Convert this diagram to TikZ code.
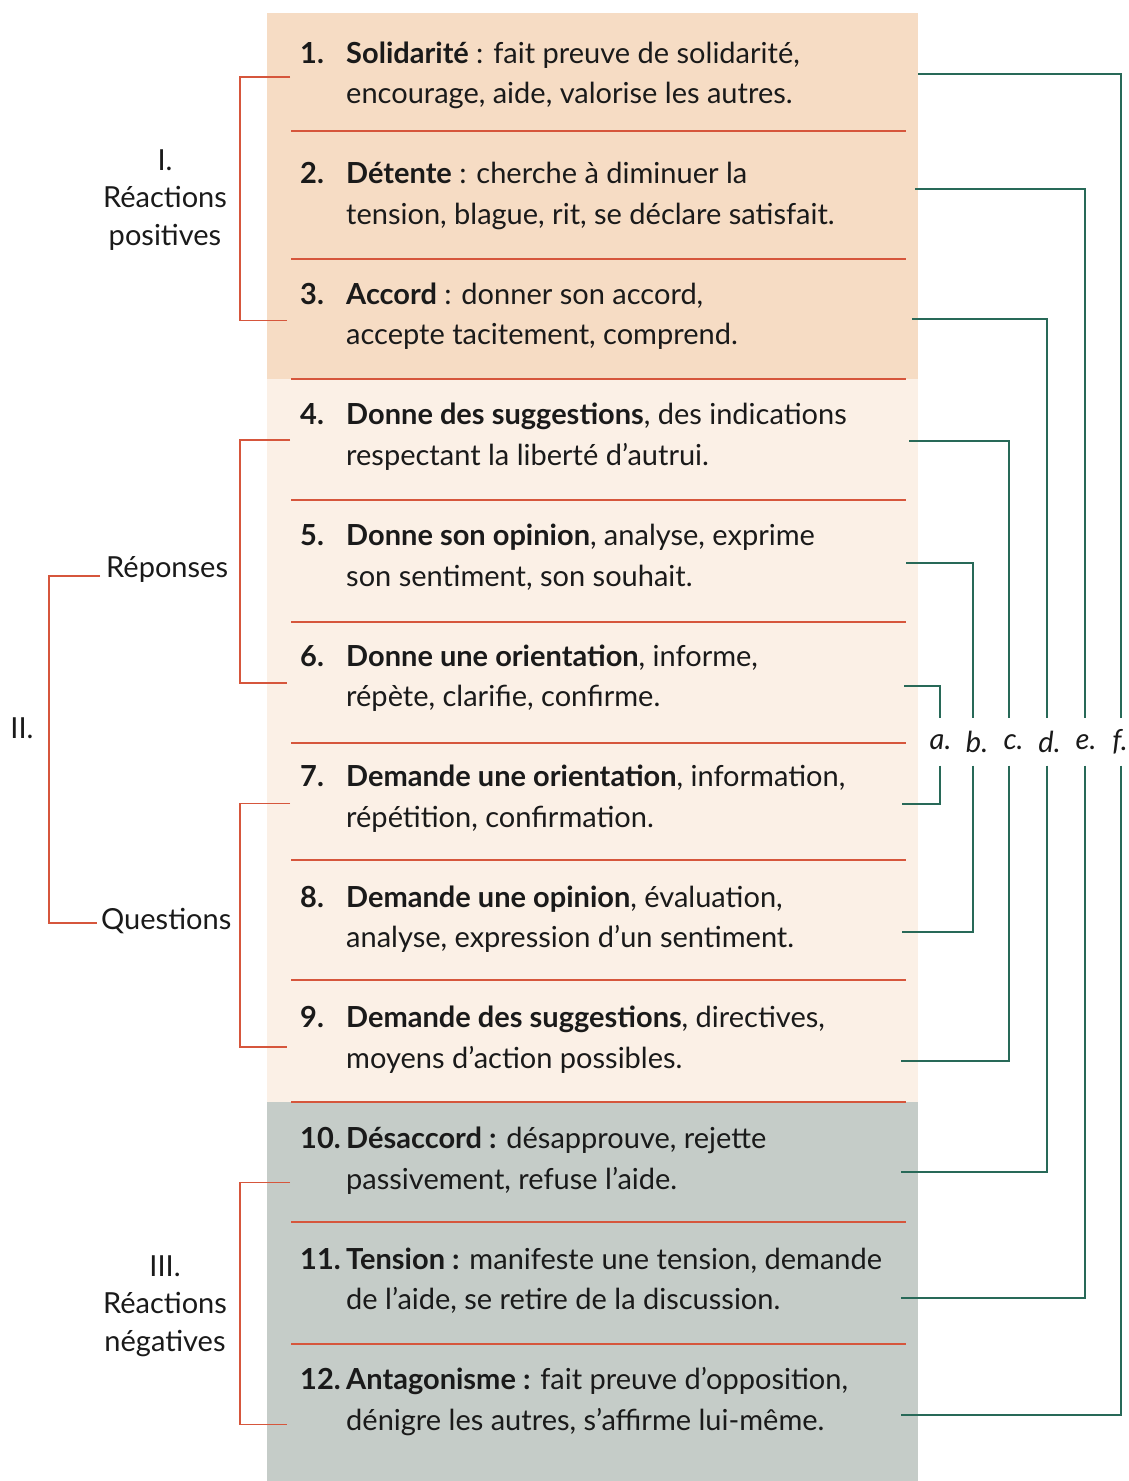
\documentclass[tikz,border=0pt]{standalone}
\usepackage{fontspec}
\setmainfont{Lato}
\usepackage{array}

\definecolor{bandpeach}{RGB}{246,220,196}
\definecolor{bandcream}{RGB}{251,240,230}
\definecolor{bandslate}{RGB}{197,204,200}
\definecolor{rulered}{RGB}{214,86,60}
\definecolor{linkgreen}{RGB}{40,105,88}
\definecolor{inkblack}{RGB}{26,26,26}

\newcommand{\bodyfont}{\fontsize{29}{40.6}\selectfont}
\newcommand{\groupfont}{\fontsize{29}{37.5}\selectfont}
% number, first line, second line
\newcommand{\entrylines}[3]{\begin{tabular}[t]{@{}p{46pt}@{}l@{}}\textbf{#1} & #2\\ & #3\end{tabular}}

\begin{document}
\begin{tikzpicture}[x=1pt, y=-1pt,
  entry/.style={anchor=base west, inner sep=0pt, text=inkblack, font=\bodyfont},
  group/.style={inner sep=0pt, align=center, text=inkblack, font=\groupfont},
  letter/.style={inner sep=0pt, minimum height=47pt, text=inkblack, font=\bodyfont\itshape},
  rule/.style={draw=rulered, line width=1.6pt},
  brace/.style={draw=rulered, line width=1.4pt},
  link/.style={draw=linkgreen, line width=1.8pt}]

  \useasboundingbox (0,0) rectangle (1128,1481);

  % colour bands
  \fill[bandpeach] (267,13) rectangle (918,379);
  \fill[bandcream] (267,379) rectangle (918,1102);
  \fill[bandslate] (267,1102) rectangle (918,1481);

  % separators between the rows
  \draw[rule] (291,131) -- (906,131);
  \draw[rule] (291,259) -- (906,259);
  \draw[rule] (291,379) -- (906,379);
  \draw[rule] (291,500) -- (906,500);
  \draw[rule] (291,622) -- (906,622);
  \draw[rule] (291,743) -- (906,743);
  \draw[rule] (291,860) -- (906,860);
  \draw[rule] (291,980) -- (906,980);
  \draw[rule] (291,1102) -- (906,1102);
  \draw[rule] (291,1222) -- (906,1222);
  \draw[rule] (291,1344) -- (906,1344);

  % the twelve categories
  \node[entry] (item1) at (300,63) {\entrylines{1.}{\textbf{Solidarité} : fait preuve de solidarité,}{encourage, aide, valorise les autres.}};
  \node[entry] (item2) at (300,183.6) {\entrylines{2.}{\textbf{Détente} : cherche à diminuer la}{tension, blague, rit, se déclare satisfait.}};
  \node[entry] (item3) at (300,304.2) {\entrylines{3.}{\textbf{Accord} : donner son accord,}{accepte tacitement, comprend.}};
  \node[entry] (item4) at (300,424.8) {\entrylines{4.}{\textbf{Donne des suggestions}, des indications}{respectant la liberté d’autrui.}};
  \node[entry] (item5) at (300,545.4) {\entrylines{5.}{\textbf{Donne son opinion}, analyse, exprime}{son sentiment, son souhait.}};
  \node[entry] (item6) at (300,666) {\entrylines{6.}{\textbf{Donne une orientation}, informe,}{répète, clarifie, confirme.}};
  \node[entry] (item7) at (300,786.6) {\entrylines{7.}{\textbf{Demande une orientation}, information,}{répétition, confirmation.}};
  \node[entry] (item8) at (300,907.2) {\entrylines{8.}{\textbf{Demande une opinion}, évaluation,}{analyse, expression d’un sentiment.}};
  \node[entry] (item9) at (300,1027.8) {\entrylines{9.}{\textbf{Demande des suggestions}, directives,}{moyens d’action possibles.}};
  \node[entry] (item10) at (300,1148.4) {\entrylines{10.}{\textbf{Désaccord :} désapprouve, rejette}{passivement, refuse l’aide.}};
  \node[entry] (item11) at (300,1269) {\entrylines{11.}{\textbf{Tension :} manifeste une tension, demande}{de l’aide, se retire de la discussion.}};
  \node[entry] (item12) at (300,1389.6) {\entrylines{12.}{\textbf{Antagonisme :} fait preuve d’opposition,}{dénigre les autres, s’affirme lui-même.}};

  % groups on the left
  \node[group, anchor=base] (positive) at (165,245) {I.\\Réactions\\positives};
  \node[group, anchor=west] (answers) at (106,569) {Réponses};
  \node[group, anchor=west] (questions) at (101,921) {Questions};
  \node[group] (second) at (22,728) {II.};
  \node[group, anchor=base] (negative) at (165,1351) {III.\\Réactions\\négatives};

  \draw[brace] ([shift={(-10,2)}]item1.west) -- ++(-50,0) |- ([shift={(-13,4)}]item3.west);
  \draw[brace] ([shift={(-10,3)}]item4.west) -- ++(-50,0) |- ([shift={(-13,5)}]item6.west);
  \draw[brace] ([shift={(-10,5)}]item7.west) -- ++(-50,0) |- ([shift={(-13,7)}]item9.west);
  \draw[brace] ([shift={(-10,22)}]item10.west) -- ++(-50,0) |- ([shift={(-13,23)}]item12.west);
  \draw[brace] ([shift={(-6,7)}]answers.west) -- ++(-51,0) |- ([shift={(-4,2)}]questions.west);

  % pairs on the right
  \node[letter] (pa) at (940.5,742) {a.};
  \node[letter] (pb) at (977,742) {b.};
  \node[letter] (pc) at (1013.5,742) {c.};
  \node[letter] (pd) at (1049.5,742) {d.};
  \node[letter] (pe) at (1086,742) {e.};
  \node[letter] (pf) at (1120,742) {f.};

  \coordinate (r1) at (918,74);
  \coordinate (r2) at (915,189);
  \coordinate (r3) at (912,319);
  \coordinate (r4) at (909,441);
  \coordinate (r5) at (906,563);
  \coordinate (r6) at (904,686);
  \coordinate (r7) at (902,804);
  \coordinate (r8) at (902,932);
  \coordinate (r9) at (901,1061);
  \coordinate (r10) at (901,1172);
  \coordinate (r11) at (901,1298);
  \coordinate (r12) at (901,1415);

  \draw[link] (r6) -| ([xshift=-0.5pt]pa.north) ([xshift=-0.5pt]pa.south) |- (r7);
  \draw[link] (r5) -| ([xshift=-4pt]pb.north) ([xshift=-4pt]pb.south) |- (r8);
  \draw[link] (r4) -| ([xshift=-4.5pt]pc.north) ([xshift=-4.5pt]pc.south) |- (r9);
  \draw[link] (r3) -| ([xshift=-2.5pt]pd.north) ([xshift=-2.5pt]pd.south) |- (r10);
  \draw[link] (r2) -| ([xshift=-1pt]pe.north) ([xshift=-1pt]pe.south) |- (r11);
  \draw[link] (r1) -| ([xshift=1pt]pf.north) ([xshift=1pt]pf.south) |- (r12);
\end{tikzpicture}
\end{document}
